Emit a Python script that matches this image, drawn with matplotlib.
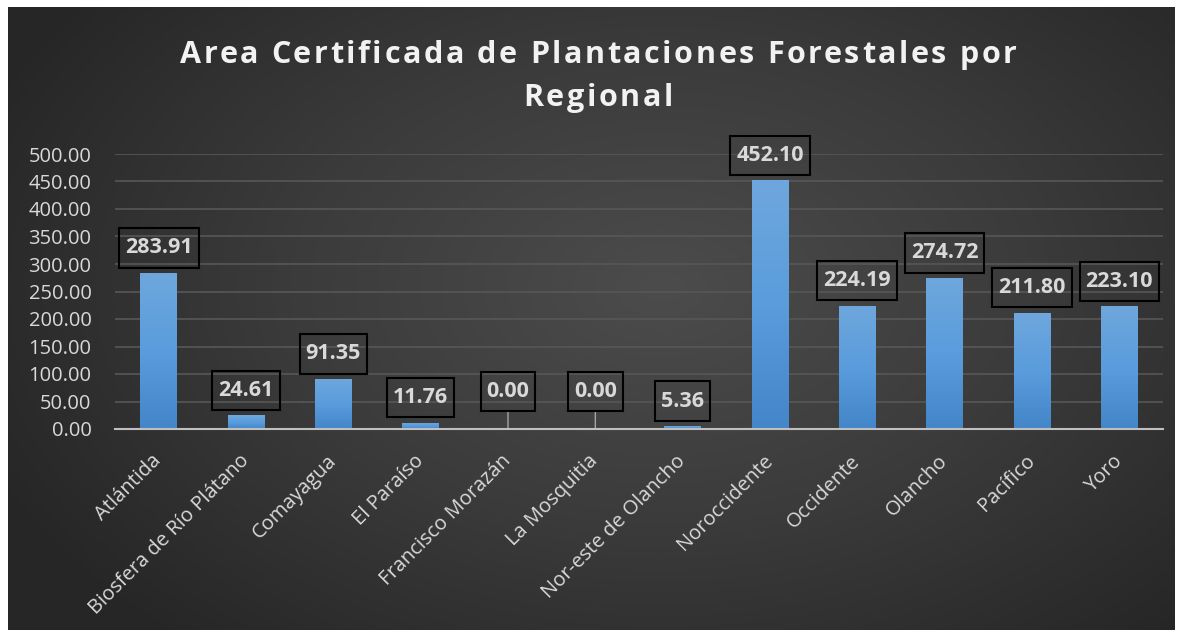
import matplotlib.pyplot as plt
import matplotlib.colors as mcolors
from matplotlib.path import Path
import numpy as np

# === DATA ===
regions = ["Atlántida", "Biosfera de Río Plátano", "Comayagua", "El Paraíso",
           "Francisco Morazán", "La Mosquitia", "Nor-este de Olancho",
           "Noroccidente", "Occidente", "Olancho", "Pacífico", "Yoro"]
area = [283.91, 24.61, 91.35, 11.76, 0.00, 0.00, 5.36,
        452.10, 224.19, 274.72, 211.80, 223.10]
yticks = np.arange(0, 501, 50)

title_lines = ["Area Certificada de Plantaciones Forestales por", "Regional"]
font = ["Open Sans", "DejaVu Sans"]
txt_color = "#d9d9d9"

W, H = 1181, 637
fig = plt.figure(figsize=(W / 100, H / 100), dpi=100)
fig.patch.set_facecolor("white")

# === BACKGROUND (radial gradient, white frame) ===
bg = fig.add_axes([8 / W, 7 / H, 1167 / W, 623 / H], zorder=-5)
yy, xx = np.mgrid[0:1:300j, 0:1:600j]
r = np.sqrt(((xx - 0.56) / 0.75) ** 2 + ((yy - 0.45) / 0.9) ** 2)
bg_cmap = mcolors.LinearSegmentedColormap.from_list("bg", ["#4c4c4c", "#3b3b3b", "#262626"])
bg.imshow(r, cmap=bg_cmap, aspect="auto", extent=[0, 1, 0, 1], vmin=0, vmax=0.85)
bg.set_axis_off()

# === MAIN AXES ===
ax = fig.add_axes([115 / W, 1 - 429 / H, 1048 / W, 275 / H])
ax.patch.set_alpha(0)
x = np.arange(len(regions))
bars = ax.bar(x, area, width=0.42, color="#6ea7dd", linewidth=0, zorder=3)

bar_cmap = mcolors.LinearSegmentedColormap.from_list("bar", ["#4386c9", "#5a9cdc", "#6ea7dd"])
grad = np.linspace(0, 1, 100).reshape(-1, 1)
for b in bars:
    h = b.get_height()
    if h <= 0:
        continue
    x0 = b.get_x()
    im = ax.imshow(grad, cmap=bar_cmap, origin="lower", aspect="auto",
                   extent=[x0, x0 + b.get_width(), 0, h], zorder=4)
    im.set_clip_path(b)

ax.set_xlim(-0.5, len(regions) - 0.5)
ax.set_ylim(0, 500)
ax.set_yticks(yticks)
ax.set_yticklabels([f"{v:.2f}" for v in yticks], fontsize=14.5, color=txt_color, family=font)
ax.set_xticks(x)
ax.set_xticklabels(regions, rotation=45, ha="right", va="center", rotation_mode="anchor",
                   fontsize=14.5, color=txt_color, family=font)
ax.tick_params(axis="both", length=0)
ax.tick_params(axis="y", pad=17)
ax.tick_params(axis="x", pad=21)
ax.grid(True, axis="y", color="#575757", linewidth=1.2, zorder=0)
for s in ["top", "right", "left"]:
    ax.spines[s].set_visible(False)
ax.spines["bottom"].set_color("#bfbfbf")
ax.spines["bottom"].set_linewidth(1.5)
ax.spines["bottom"].set_zorder(5)


# label box: a bit taller than wide padding, like Excel's callouts
def label_box(x0, y0, width, height, mutation_size):
    px, py = 0.28 * mutation_size, 0.43 * mutation_size
    x0, y0 = x0 - px, y0 - py
    x1, y1 = x0 + width + 2 * px, y0 + height + 2 * py
    return Path([(x0, y0), (x1, y0), (x1, y1), (x0, y1), (x0, y0)], closed=True)


# === DATA LABELS ===
for xi, v in zip(x, area):
    off = 27 if v == 0 else 18
    ax.annotate(f"{v:.2f}", (xi, v), xytext=(0, off), textcoords="offset points",
                ha="center", va="center", fontsize=15.5, fontweight="bold",
                color=txt_color, family=font, zorder=6, annotation_clip=False,
                bbox=dict(boxstyle=label_box, facecolor="none",
                          edgecolor="black", linewidth=1.5))
    if v == 0:
        ax.annotate("", (xi, 0), xytext=(0, 13), textcoords="offset points",
                    arrowprops=dict(arrowstyle="-", color="#a6a6a6", lw=1,
                                    shrinkA=0, shrinkB=0), zorder=5)

# === TITLE with letter spacing ===
renderer = fig.canvas.get_renderer()
tkw = dict(fontsize=22, fontweight="bold", family=font, color="#f2f2f2")
spacing = 2.6  # px between letters
for line, yc in zip(title_lines, [55, 98]):
    probe = fig.text(0, 0, line, **tkw)
    widths = []
    for i in range(len(line) + 1):
        probe.set_text(line[:i] + "|")
        widths.append(probe.get_window_extent(renderer).width)
    bar_w = widths[0]
    pos = [w - bar_w for w in widths]
    probe.remove()
    total = pos[-1] + spacing * (len(line) - 1)
    x_start = 598 - total / 2
    for i, ch in enumerate(line):
        if ch == " ":
            continue
        px = x_start + pos[i] + spacing * i
        fig.text(px / W, 1 - yc / H, ch, ha="left", va="center", **tkw)

fig.savefig("out.png", dpi=100, facecolor=fig.get_facecolor())
